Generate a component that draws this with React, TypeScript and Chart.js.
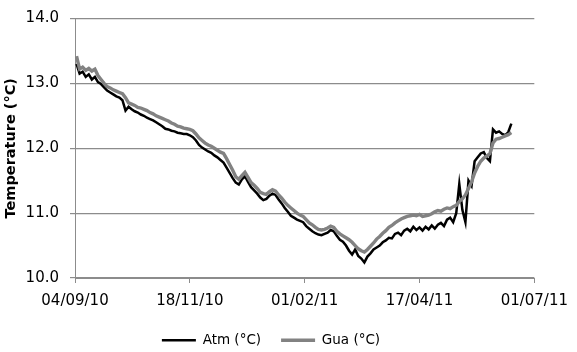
import { useEffect, useRef } from 'react';
import { Chart, registerables } from 'chart.js';

Chart.register(...registerables);

const tickDays = [0, 75, 150, 225, 300];
const tickLabels = ['04/09/10', '18/11/10', '01/02/11', '17/04/11', '01/07/11'];

const days = [
  1, 3, 5, 7, 9, 11, 13, 15, 17, 19,
  21, 23, 25, 27, 29, 31, 33, 35, 37, 39,
  41, 43, 45, 47, 49, 51, 53, 55, 57, 59,
  61, 63, 65, 67, 69, 71, 73, 75, 77, 79,
  81, 83, 85, 87, 89, 91, 93, 95, 97, 99,
  101, 103, 105, 107, 109, 111, 113, 115, 117, 119,
  121, 123, 125, 127, 129, 131, 133, 135, 137, 139,
  141, 143, 145, 147, 149, 151, 153, 155, 157, 159,
  161, 163, 165, 167, 169, 171, 173, 175, 177, 179,
  181, 183, 185, 187, 189, 191, 193, 195, 197, 199,
  201, 203, 205, 207, 209, 211, 213, 215, 217, 219,
  221, 223, 225, 227, 229, 231, 233, 235, 237, 239,
  241, 243, 245, 247, 249, 251, 253, 255, 257, 259,
  261, 263, 265, 267, 269, 271, 273, 275, 277, 279,
  281, 283, 285,
];

const atm = [
  13.30, 13.15, 13.18, 13.10, 13.14, 13.06, 13.10, 13.02, 12.99, 12.94,
  12.89, 12.86, 12.83, 12.80, 12.78, 12.74, 12.58, 12.64, 12.60, 12.57,
  12.55, 12.52, 12.50, 12.47, 12.45, 12.43, 12.40, 12.37, 12.34, 12.30,
  12.29, 12.27, 12.26, 12.24, 12.23, 12.22, 12.22, 12.20, 12.17, 12.12,
  12.05, 12.01, 11.98, 11.95, 11.93, 11.89, 11.86, 11.82, 11.78, 11.70,
  11.62, 11.54, 11.47, 11.44, 11.52, 11.57, 11.48, 11.40, 11.35, 11.30,
  11.24, 11.20, 11.22, 11.27, 11.30, 11.28, 11.21, 11.15, 11.08, 11.02,
  10.96, 10.93, 10.90, 10.88, 10.86, 10.80, 10.76, 10.72, 10.69, 10.67,
  10.66, 10.68, 10.70, 10.74, 10.72, 10.65, 10.59, 10.56, 10.50, 10.42,
  10.36, 10.44, 10.34, 10.30, 10.24, 10.33, 10.38, 10.44, 10.47, 10.50,
  10.55, 10.58, 10.62, 10.61, 10.68, 10.70, 10.66, 10.73, 10.76, 10.72,
  10.79, 10.74, 10.78, 10.73, 10.79, 10.75, 10.81, 10.76, 10.82, 10.85,
  10.80, 10.90, 10.93, 10.86, 11.00, 11.45, 11.05, 10.86, 11.50, 11.42,
  11.80, 11.86, 11.92, 11.94, 11.85, 11.80, 12.29, 12.24, 12.26, 12.22,
  12.20, 12.25, 12.38,
];

const gua = [
  13.42, 13.22, 13.25, 13.20, 13.23, 13.19, 13.22, 13.12, 13.06, 13.00,
  12.95, 12.93, 12.90, 12.88, 12.86, 12.84, 12.78, 12.70, 12.68, 12.66,
  12.63, 12.62, 12.60, 12.58, 12.55, 12.53, 12.50, 12.48, 12.46, 12.44,
  12.42, 12.39, 12.37, 12.34, 12.33, 12.31, 12.30, 12.29, 12.27, 12.22,
  12.16, 12.12, 12.08, 12.05, 12.03, 12.00, 11.97, 11.94, 11.92, 11.84,
  11.75, 11.66, 11.56, 11.52, 11.58, 11.63, 11.55, 11.47, 11.43, 11.38,
  11.32, 11.30, 11.29, 11.33, 11.36, 11.34, 11.28, 11.23, 11.17, 11.12,
  11.08, 11.04, 11.00, 10.97, 10.95, 10.90, 10.85, 10.82, 10.78, 10.75,
  10.74, 10.75, 10.77, 10.80, 10.78, 10.72, 10.68, 10.65, 10.62, 10.59,
  10.55, 10.50, 10.45, 10.42, 10.40, 10.44, 10.49, 10.54, 10.60, 10.64,
  10.69, 10.73, 10.78, 10.81, 10.85, 10.88, 10.91, 10.93, 10.95, 10.96,
  10.97, 10.96, 10.98, 10.95, 10.96, 10.97, 10.99, 11.02, 11.04, 11.03,
  11.06, 11.08, 11.07, 11.10, 11.12, 11.18, 11.22, 11.28, 11.38, 11.48,
  11.62, 11.72, 11.80, 11.85, 11.88, 11.92, 12.08, 12.14, 12.15, 12.17,
  12.19, 12.21, 12.24,
];

const FONT = "'DejaVu Sans'";
const AXIS = '#8c8c8c';

export default function App() {
  const ref = useRef<HTMLCanvasElement | null>(null);

  useEffect(() => {
    document.body.style.margin = '0';
    const canvas = ref.current;
    if (!canvas) return;
    const chart = new Chart(canvas, {
      type: 'line',
      data: {
        datasets: [
          {
            label: 'Atm (°C)',
            data: days.map((d, i) => ({ x: d, y: atm[i] })),
            borderColor: '#000000',
            backgroundColor: '#000000',
            borderWidth: 2.5,
            pointRadius: 0,
            tension: 0,
            order: 2,
          },
          {
            label: 'Gua (°C)',
            data: days.map((d, i) => ({ x: d, y: gua[i] })),
            borderColor: '#828282',
            backgroundColor: '#828282',
            borderWidth: 3.4,
            pointRadius: 0,
            tension: 0,
            order: 1,
          },
        ],
      },
      options: {
        responsive: false,
        animation: false,
        layout: { padding: { top: 7, right: 35, bottom: -5, left: 0 } },
        scales: {
          x: {
            type: 'linear',
            min: 0,
            max: 300,
            afterFit: (s: any) => {
              s.height = 35.5;
            },
            ticks: {
              stepSize: 75,
              autoSkip: false,
              maxRotation: 0,
              padding: 9,
              color: '#000',
              font: { family: FONT, size: 15 },
              callback: (v: any) => {
                const i = tickDays.indexOf(Number(v));
                return i >= 0 ? tickLabels[i] : '';
              },
            },
            grid: {
              drawOnChartArea: false,
              drawTicks: true,
              tickLength: 5,
              color: AXIS,
            },
            border: { display: true, color: AXIS, width: 1 },
          },
          y: {
            min: 10,
            max: 14,
            afterFit: (s: any) => {
              s.width = 75;
            },
            ticks: {
              stepSize: 1,
              padding: 11,
              color: '#000',
              font: { family: FONT, size: 15, lineHeight: 1 },
              callback: (v: any) => Number(v).toFixed(1),
            },
            grid: {
              color: AXIS,
              lineWidth: 1.2,
              tickLength: 5,
            },
            border: { display: true, color: AXIS, width: 1 },
            title: {
              display: true,
              text: 'Temperature (°C)',
              color: '#000',
              font: { family: FONT, size: 14.5, weight: 'bold' },
              padding: { top: 3, bottom: 0 },
            },
          },
        },
        plugins: {
          tooltip: { enabled: false },
          legend: {
            position: 'bottom',
            labels: {
              usePointStyle: true,
              pointStyle: 'line',
              pointStyleWidth: 34,
              padding: 20,
              color: '#000',
              font: { family: FONT, size: 13.5 },
              sort: (a: any, b: any) => a.datasetIndex - b.datasetIndex,
            },
          },
        },
      },
    });
    return () => chart.destroy();
  }, []);

  return (
    <div style={{ width: 577, height: 352 }}>
      <canvas ref={ref} width={577} height={352} />
    </div>
  );
}
